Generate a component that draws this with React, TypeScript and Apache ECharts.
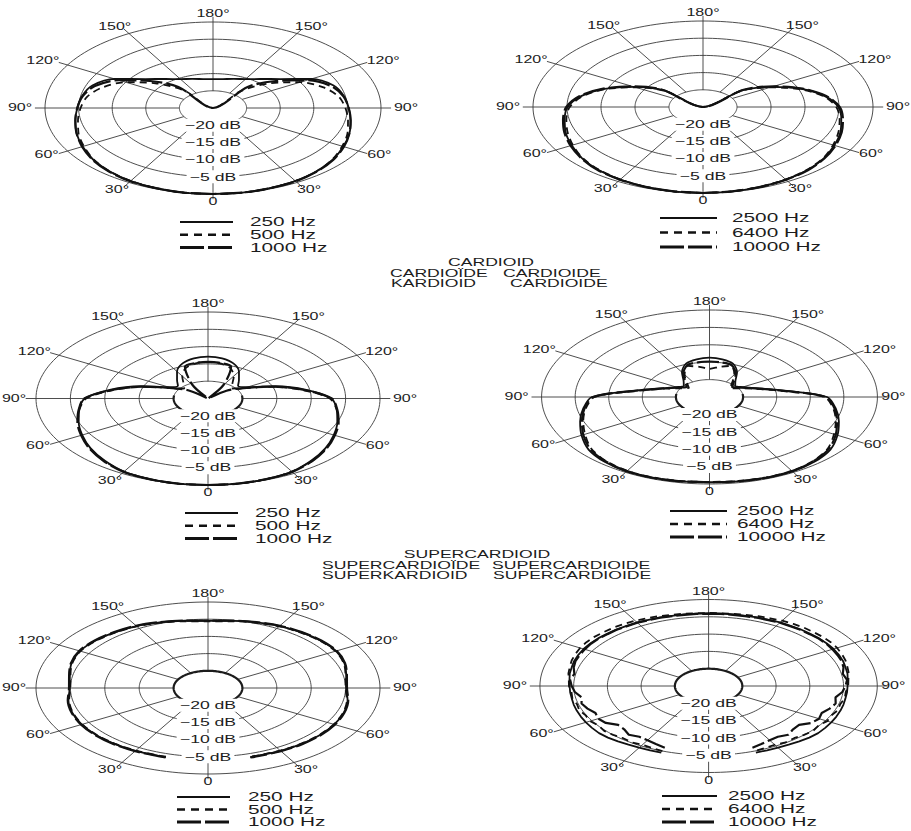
import { useEffect, useRef } from "react";
import * as echarts from "echarts";

// ---------------------------------------------------------------------------
// Scale: every diagram runs from -25 dB (centre) to 0 dB (outer ring)
// ---------------------------------------------------------------------------
const FLOOR_DB = -25;
const RADIUS = -FLOOR_DB;
const AXIS_SPAN = 30;
const RING_DB = [-20, -15, -10, -5, 0];
const RING_LABELS = ["−20 dB", "−15 dB", "−10 dB", "−5 dB"];
const SPOKE_ANGLES = [0, 30, 60, 90, 120, 150, 180, 210, 240, 270, 300, 330];
const SPOKE_INNER_DB = -20;
const SPOKE_OUTER_DB = 1.5;
const SIDE_ANGLES = [30, 60, 90, 120, 150];
const TOP_LABEL = "180°";
const BOTTOM_LABEL = "0";

const LOW_FREQS = ["250 Hz", "500 Hz", "1000 Hz"];
const HIGH_FREQS = ["2500 Hz", "6400 Hz", "10000 Hz"];

const CARDIOID_TITLE = "CARDIOID";
const CARDIOID_NAMES = ["CARDIOÏDE", "CARDIOIDE", "KARDIOID", "CARDIOIDE"];
const SUPER_TITLE = "SUPERCARDIOID";
const SUPER_NAMES = ["SUPERCARDIOÏDE", "SUPERCARDIOIDE", "SUPERKARDIOID", "SUPERCARDIOIDE"];

// ---------------------------------------------------------------------------
// Response in dB, angle measured from the front (0°) towards the rear (180°)
// ---------------------------------------------------------------------------
const ANG_10 = [0, 10, 20, 30, 40, 50, 60, 70, 80, 90, 100, 110, 120, 130, 140, 150, 160, 170, 180];

// cardioid, low frequencies
const CARD_LO_250 = [0, 0, -0.2, -0.5, -1.0, -1.7, -2.6, -3.4, -4.2, -4.8, -5.2, -5.9, -8.1, -11.9, -14.0, -15.3, -16.0, -16.45, -16.6];
const CARD_LO_500 = [0, 0, -0.2, -0.5, -1.0, -1.8, -2.8, -3.7, -4.6, -5.3, -6.0, -7.5, -10.0, -13.8, -18.5, -25, -25, -25, -25];
const CARD_LO_1000 = [0, 0, -0.2, -0.4, -0.9, -1.6, -2.5, -3.4, -4.2, -4.8, -5.3, -6.3, -8.8, -12.8, -17.0, -25, -25, -25, -25];

// cardioid, high frequencies
const CARD_HI_2500 = [0, -0.1, -0.3, -0.6, -1.1, -1.8, -2.7, -3.5, -4.35, -5.1, -6.8, -9.6, -13.3, -17.5, -25, -25, -25, -25, -25];
const CARD_HI_6400 = [0, -0.1, -0.3, -0.7, -1.2, -1.9, -2.9, -3.8, -4.6, -5.4, -7.0, -9.8, -13.6, -17.8, -25, -25, -25, -25, -25];
const CARD_HI_10000 = [0, -0.1, -0.3, -0.6, -1.0, -1.7, -2.5, -3.3, -4.1, -4.9, -6.6, -9.4, -13.0, -17.2, -25, -25, -25, -25, -25];

// supercardioid, low frequencies
const SUPER_LO_250 = [0, 0, -0.2, -0.6, -1.6, -2.7, -3.9, -5.0, -6.0, -7.1, -10.5, -14.6, -18.5, -19.3, -18.0, -16.0, -14.2, -13.2, -12.9];
const SUPER_LO_500 = [0, 0, -0.2, -0.6, -1.5, -2.6, -3.8, -4.9, -6.0, -7.3, -11.0, -15.2, -19.0, -20.5, -19.5, -17.5, -15.6, -14.7, -14.4];
const SUPER_LO_1000 = [0, 0, -0.2, -0.5, -1.4, -2.5, -3.7, -4.8, -5.9, -7.0, -10.8, -15.0, -19.0, -21.5, -25, -20.5, -15.2, -14.6, -14.4];

// supercardioid, high frequencies
const SUPER_HI_2500 = [-0.5, -0.4, -0.3, -0.3, -0.7, -1.5, -3.0, -4.5, -5.9, -7.5, -14.0, -17.6, -19.3, -20.0, -19.0, -16.8, -14.8, -14.0, -13.7];
const SUPER_HI_6400 = [-0.6, -0.5, -0.4, -0.5, -1.0, -2.0, -3.6, -5.0, -6.3, -7.9, -14.5, -18.0, -20.0, -21.0, -19.8, -17.6, -15.5, -16.2, -16.9];
const SUPER_HI_10000 = [-0.5, -0.4, -0.3, -0.4, -0.9, -1.8, -3.3, -4.8, -6.1, -7.7, -14.2, -17.8, -19.6, -20.6, -19.4, -17.2, -15.3, -14.9, -14.8];

// bottom row, low frequencies (traced from 17° round the back)
const ANG_BL = [17, 20, 30, 40, 50, 60, 70, 80, 90, 100, 110, 120, 130, 140, 150, 160, 170, 180];
const BOT_LO_250 = [-4.0, -4.0, -3.9, -3.8, -3.75, -3.8, -4.0, -4.4, -4.9, -4.6, -3.9, -3.5, -3.6, -3.9, -4.2, -4.7, -5.2, -5.5];
const BOT_LO_500 = [-4.1, -4.1, -4.0, -3.9, -3.85, -3.9, -4.1, -4.5, -5.0, -4.7, -4.0, -3.6, -3.7, -4.0, -4.3, -4.8, -5.3, -5.6];
const BOT_LO_1000 = [-3.9, -3.9, -3.8, -3.7, -3.65, -3.7, -3.9, -4.3, -4.8, -4.5, -3.8, -3.4, -3.5, -3.8, -4.1, -4.6, -5.1, -5.4];

// bottom row, high frequencies (traced from 20° round the back)
const ANG_BR = [20, 25, 30, 35, 40, 45, 50, 55, 60, 65, 70, 75, 80, 85, 90, 95, 100, 105, 110, 115, 120, 125, 130, 135, 140, 145, 150, 155, 160, 165, 170, 175, 180];
const BOT_HI_2500 = [-4.5, -4.5, -4.4, -4.3, -4.1, -3.9, -3.8, -3.9, -4.0, -4.1, -4.2, -4.3, -4.4, -4.4, -4.4, -4.3, -4.1, -4.0, -3.8, -3.7, -3.6, -3.6, -3.6, -3.7, -3.7, -3.8, -3.8, -3.9, -3.9, -4.0, -4.0, -4.0, -4.0];
const BOT_HI_6400 = [-5.0, -5.2, -5.4, -5.1, -5.3, -5.0, -4.8, -5.1, -4.7, -4.9, -4.6, -4.8, -4.5, -4.6, -4.3, -4.2, -3.9, -3.7, -3.4, -3.2, -3.0, -2.9, -2.9, -3.0, -3.0, -3.1, -3.2, -3.4, -3.5, -3.7, -3.8, -3.9, -3.9];
const BOT_HI_10000 = [-6.0, -6.5, -6.9, -7.1, -6.6, -7.3, -7.5, -6.4, -6.1, -6.5, -5.9, -5.5, -5.9, -5.1, -4.7, -4.4, -4.8, -4.3, -4.0, -3.9, -3.8, -3.7, -3.7, -3.8, -3.8, -3.9, -3.9, -4.0, -4.0, -4.1, -4.1, -4.1, -4.1];

// ---------------------------------------------------------------------------
// Layout and styling
// ---------------------------------------------------------------------------
const FONT = '"Liberation Sans", Arial, Helvetica, sans-serif';
const INK = "#1c1c1c";
const GRID_INK = "#3a3a3a";
const STRETCH = 1.6;
const ANGLE_FONT = 10;
const DB_FONT = 11;
const LEGEND_FONT = 13;
const TITLE_FONT = 11;

const CURVE_STYLES = [
  { type: "solid" as any, width: 1.8 },
  { type: [7, 5] as any, width: 1.8 },
  { type: [22, 4] as any, width: 2.2 },
];
const LEGEND_STYLES = [
  { dash: null as number[] | null, width: 2.2 },
  { dash: [8, 6], width: 2.6 },
  { dash: [24, 4], width: 3 },
];

type Plot = {
  cx: number; cy: number; rx: number; ry: number;
  angles: number[]; names: string[]; curves: number[][];
  bold: "none" | "lower" | "full"; smooth: number; gap90: number[];
  legend: { x0: number; x1: number; tx: number; y0: number; dy: number };
};

const PLOTS: Plot[] = [
  { cx: 213, cy: 108, rx: 168, ry: 86, angles: ANG_10, names: LOW_FREQS,
    curves: [CARD_LO_250, CARD_LO_500, CARD_LO_1000], bold: "none", smooth: 0.3, gap90: [25, 25],
    legend: { x0: 180, x1: 233, tx: 250, y0: 222, dy: 12.7 } },
  { cx: 703, cy: 107, rx: 170, ry: 86, angles: ANG_10, names: HIGH_FREQS,
    curves: [CARD_HI_2500, CARD_HI_6400, CARD_HI_10000], bold: "none", smooth: 0.3, gap90: [25, 25],
    legend: { x0: 660, x1: 717, tx: 732, y0: 218, dy: 14.5 } },
  { cx: 208, cy: 398.5, rx: 172, ry: 86.5, angles: ANG_10, names: LOW_FREQS,
    curves: [SUPER_LO_250, SUPER_LO_500, SUPER_LO_1000], bold: "lower", smooth: 0.3, gap90: [22, 25],
    legend: { x0: 185, x1: 238, tx: 255, y0: 513, dy: 12.7 } },
  { cx: 712, cy: 397, rx: 170, ry: 87, angles: ANG_10, names: HIGH_FREQS,
    curves: [SUPER_HI_2500, SUPER_HI_6400, SUPER_HI_10000], bold: "lower", smooth: 0.3, gap90: [25, 16],
    legend: { x0: 670, x1: 727, tx: 737, y0: 511, dy: 13 } },
  { cx: 208, cy: 688, rx: 172, ry: 86, angles: ANG_BL, names: LOW_FREQS,
    curves: [BOT_LO_250, BOT_LO_500, BOT_LO_1000], bold: "full", smooth: 0.3, gap90: [22, 25],
    legend: { x0: 177, x1: 230, tx: 248, y0: 797, dy: 12.5 } },
  { cx: 712, cy: 686, rx: 171.5, ry: 86.5, angles: ANG_BR, names: HIGH_FREQS,
    curves: [BOT_HI_2500, BOT_HI_6400, BOT_HI_10000], bold: "full", smooth: 0, gap90: [25, 16],
    legend: { x0: 662, x1: 717, tx: 728, y0: 796, dy: 13 } },
];

const TITLE_BLOCKS = [
  { title: CARDIOID_TITLE, names: CARDIOID_NAMES, center: [491, 262], rows: [[390, 273], [503, 273], [391, 283], [510, 283]] },
  { title: SUPER_TITLE, names: SUPER_NAMES, center: [477, 554], rows: [[322, 565], [492, 565], [322, 575], [493, 575]] },
];

// ---------------------------------------------------------------------------
// Geometry helpers: polar (angle from front, dB) -> axis units
// ---------------------------------------------------------------------------
function toXY(angleDeg: number, db: number, side: number): number[] {
  const r = Math.max(0, db - FLOOR_DB);
  const t = (angleDeg * Math.PI) / 180;
  return [side * r * Math.sin(t), -r * Math.cos(t)];
}

function curvePoints(angles: number[], dbs: number[]): number[][] {
  const raw = angles.map((a, i) => toXY(a, dbs[i], -1));
  for (let i = angles.length - 2; i >= 0; i--) raw.push(toXY(angles[i], dbs[i], 1));
  const out: number[][] = [];
  raw.forEach((p) => {
    const q = out[out.length - 1];
    if (!q || Math.hypot(p[0] - q[0], p[1] - q[1]) > 1e-6) out.push(p);
  });
  return out;
}

function arc(db: number, from: number, to: number): number[][] {
  const pts: number[][] = [];
  for (let a = from; a <= to + 1e-6; a += 2) pts.push(toXY(a, db, 1));
  return pts;
}

function buildOption() {
  const grid = PLOTS.map((p) => ({
    left: p.cx - (p.rx * AXIS_SPAN) / RADIUS,
    top: p.cy - (p.ry * AXIS_SPAN) / RADIUS,
    width: (2 * p.rx * AXIS_SPAN) / RADIUS,
    height: (2 * p.ry * AXIS_SPAN) / RADIUS,
  }));
  const xAxis = PLOTS.map((_, i) => ({ type: "value", gridIndex: i, min: -AXIS_SPAN, max: AXIS_SPAN, show: false }));
  const yAxis = PLOTS.map((_, i) => ({ type: "value", gridIndex: i, min: -AXIS_SPAN, max: AXIS_SPAN, show: false }));

  const series: any[] = [];
  PLOTS.forEach((p, i) => {
    const gridLines = RING_DB.map((db) => ({ coords: arc(db, 0, 360) })).concat(
      SPOKE_ANGLES.map((a) => ({ coords: [toXY(a, SPOKE_INNER_DB, 1), toXY(a, SPOKE_OUTER_DB, 1)] }))
    );
    series.push({
      type: "lines", coordinateSystem: "cartesian2d", xAxisIndex: i, yAxisIndex: i,
      polyline: true, silent: true, clip: false, z: 1,
      lineStyle: { color: GRID_INK, width: 0.9, opacity: 1 },
      data: gridLines,
    });
    if (p.bold !== "none") {
      series.push({
        type: "lines", coordinateSystem: "cartesian2d", xAxisIndex: i, yAxisIndex: i,
        polyline: true, silent: true, clip: false, z: 2,
        lineStyle: { color: INK, width: 2.2, opacity: 1 },
        data: [{ coords: p.bold === "full" ? arc(SPOKE_INNER_DB, 0, 360) : arc(SPOKE_INNER_DB, -100, 100) }],
      });
    }
    p.curves.forEach((dbs, k) => {
      series.push({
        type: "line", name: p.names[k], xAxisIndex: i, yAxisIndex: i,
        data: curvePoints(p.angles, dbs),
        symbol: "none", showSymbol: false, smooth: p.smooth, clip: false, silent: true, z: 3,
        lineStyle: { color: "#111", width: CURVE_STYLES[k].width, type: CURVE_STYLES[k].type },
      });
    });
  });

  return { animation: false, backgroundColor: "#fff", grid, xAxis, yAxis, series };
}

function text(str: string, x: number, y: number, size: number, align = "center", bg?: string) {
  const style: any = {
    text: str, x: 0, y: 0, fill: INK, fontSize: size, fontFamily: FONT,
    align, verticalAlign: "middle", textAlign: align, textVerticalAlign: "middle",
  };
  if (bg) {
    style.backgroundColor = bg;
    style.padding = [1, 2];
  }
  return { type: "text", x, y, scaleX: STRETCH, scaleY: 1, z: 100, silent: true, style };
}

function buildGraphics(chart: echarts.ECharts) {
  const els: any[] = [];
  PLOTS.forEach((p, i) => {
    const px = (pt: number[]) => chart.convertToPixel({ gridIndex: i }, pt) as number[];
    const [cx, cy] = px([0, 0]);
    const rx = px([RADIUS, 0])[0] - cx;
    const ry = cy - px([0, RADIUS])[1];

    // angle labels
    els.push(text(TOP_LABEL, cx, cy - ry - 8, ANGLE_FONT));
    els.push(text(BOTTOM_LABEL, cx, cy + ry + 8, ANGLE_FONT));
    [-1, 1].forEach((side) => {
      SIDE_ANGLES.forEach((a) => {
        const lbl = `${a}°`;
        const halfW = ((lbl.length - 1) * 0.556 + 0.4) * ANGLE_FONT * STRETCH / 2;
        const t = (a * Math.PI) / 180;
        const dx = a === 90 ? rx + p.gap90[side < 0 ? 0 : 1] : Math.sin(t) * (rx + 12 + halfW);
        const dy = Math.cos(t) * (ry + 8);
        els.push(text(lbl, cx + side * dx, cy + dy, ANGLE_FONT));
      });
    });

    // level labels along the front axis
    RING_DB.slice(0, RING_LABELS.length).forEach((db, k) => {
      const [lx, ly] = px([0, -(db - FLOOR_DB)]);
      els.push(text(RING_LABELS[k], lx, ly, DB_FONT, "center", "#fff"));
    });

    // legend
    p.names.forEach((name, k) => {
      const y = p.legend.y0 + k * p.legend.dy;
      const ls = LEGEND_STYLES[k];
      els.push({
        type: "line", z: 100, silent: true,
        shape: { x1: p.legend.x0, y1: y, x2: p.legend.x1, y2: y },
        style: { stroke: "#111", lineWidth: ls.width, lineDash: ls.dash || undefined },
      });
      els.push(text(name, p.legend.tx, y, LEGEND_FONT, "left"));
    });
  });

  TITLE_BLOCKS.forEach((b) => {
    els.push(text(b.title, b.center[0], b.center[1], TITLE_FONT, "center"));
    b.names.forEach((n, k) => els.push(text(n, b.rows[k][0], b.rows[k][1], TITLE_FONT, "left")));
  });
  return els;
}

export default function App() {
  const ref = useRef<HTMLDivElement>(null);
  useEffect(() => {
    if (!ref.current) return;
    const chart = echarts.init(ref.current, undefined, { renderer: "svg" });
    chart.setOption(buildOption());
    chart.setOption({ graphic: { elements: buildGraphics(chart) } });
    return () => chart.dispose();
  }, []);
  return (
    <div
      ref={ref}
      style={{ position: "fixed", left: 0, top: 0, width: 911, height: 831, background: "#fff" }}
    />
  );
}
